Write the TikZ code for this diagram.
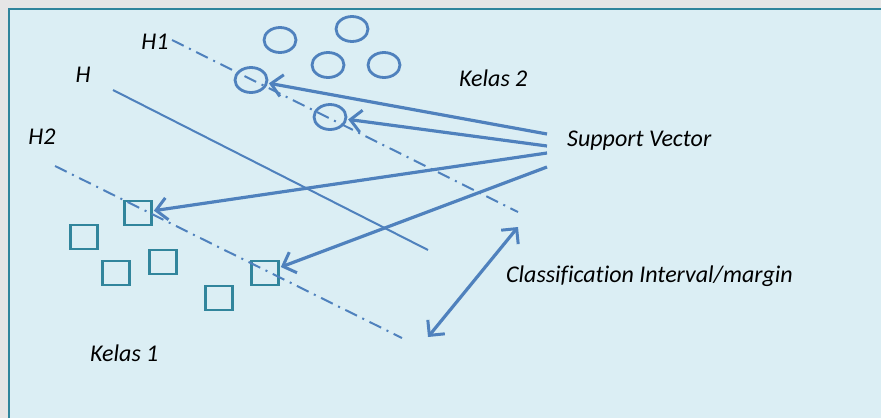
\documentclass[tikz,border=0pt]{standalone}
\usepackage{fontspec}
\setmainfont{Carlito}[Ligatures=NoCommon]
\usetikzlibrary{arrows.meta,shapes.geometric}
\definecolor{panelfill}{HTML}{DBEEF4}
\definecolor{panelline}{HTML}{31859C}
\definecolor{lineblue}{HTML}{4F81BD}
\definecolor{outside}{HTML}{E6E6E6}
\tikzset{
  lbl/.style={font=\itshape\fontsize{24}{26}\selectfont, text=black, inner sep=0pt},
  pt2/.style={ellipse, draw=lineblue, line width=2.8pt, minimum width=32pt, minimum height=25pt, inner sep=0pt},
  pt1/.style={rectangle, draw=panelline, line width=2.8pt, minimum width=27pt, minimum height=24pt, inner sep=0pt},
  hyper/.style={draw=lineblue, line width=2pt},
  marginline/.style={draw=lineblue, line width=2pt, dash pattern=on 13pt off 6pt on 2pt off 6pt},
  svarrow/.style={draw=lineblue, line width=3.2pt, -{Straight Barb[length=11pt,width=22pt,line width=3pt]}, shorten >=1pt},
  gaparrow/.style={draw=lineblue, line width=3.2pt, {Straight Barb[length=11pt,width=22pt,line width=3pt]}-{Straight Barb[length=11pt,width=22pt,line width=3pt]}}
}
\begin{document}
\begin{tikzpicture}[x=1pt,y=-1pt]
  \useasboundingbox (0,0) rectangle (881,418);
  % surroundings and panel
  \fill[outside] (0,0) rectangle (881,418);
  \fill[panelfill] (9,9) rectangle (881,418);
  \draw[panelline, line width=2.5pt] (9,418) -- (9,9) -- (881,9);

  % class 2 points (circles)
  \node[pt2] (c1) at (280,40) {};
  \node[pt2] (c2) at (352,29) {};
  \node[pt2] (c3) at (328,65) {};
  \node[pt2] (c4) at (384,65) {};
  \node[pt2] (c5) at (251,80) {};
  \node[pt2] (c6) at (330,117) {};

  % class 1 points (squares)
  \node[pt1] (s1) at (138,213) {};
  \node[pt1] (s2) at (84,237) {};
  \node[pt1] (s3) at (116,273) {};
  \node[pt1] (s4) at (163,262) {};
  \node[pt1] (s5) at (219,298) {};
  \node[pt1] (s6) at (265,273) {};

  % hyperplane and margins
  \coordinate (h1a) at (172,40);  \coordinate (h1b) at (518,212);
  \coordinate (ha)  at (113,90);  \coordinate (hb)  at (428,250);
  \coordinate (h2a) at (55,166);  \coordinate (h2b) at (402,338);
  \path[marginline] (h1a) -- (h1b);
  \path[hyper] (ha) -- (hb);
  \path[marginline] (h2a) -- (h2b);

  % labels
  \node[lbl] (lh1) at (155,42) {H1};
  \node[lbl] (lh)  at (83,75) {H};
  \node[lbl] (lh2) at (42,137) {H2};
  \node[lbl, anchor=west] (k2) at (459,78) {Kelas 2};
  \node[lbl, anchor=west] (sv) at (567,141) {Support Vector};
  \node[lbl, anchor=west] (ci) at (506,276) {Classification Interval/margin};
  \node[lbl, anchor=west] (k1) at (90,353) {Kelas 1};

  % support vector pointers
  \coordinate (sv1) at (547,134);
  \coordinate (sv2) at (547,146);
  \coordinate (sv3) at (547,153);
  \coordinate (sv4) at (547,167);
  \draw[svarrow] (sv1) -- (c5);
  \draw[svarrow] (sv2) -- (c6);
  \draw[svarrow] (sv3) -- (s1);
  \draw[svarrow] (sv4) -- (s6);

  % margin width
  \coordinate (ga) at (518,227);
  \coordinate (gb) at (428,337);
  \draw[gaparrow] (gb) -- (ga);
\end{tikzpicture}
\end{document}
